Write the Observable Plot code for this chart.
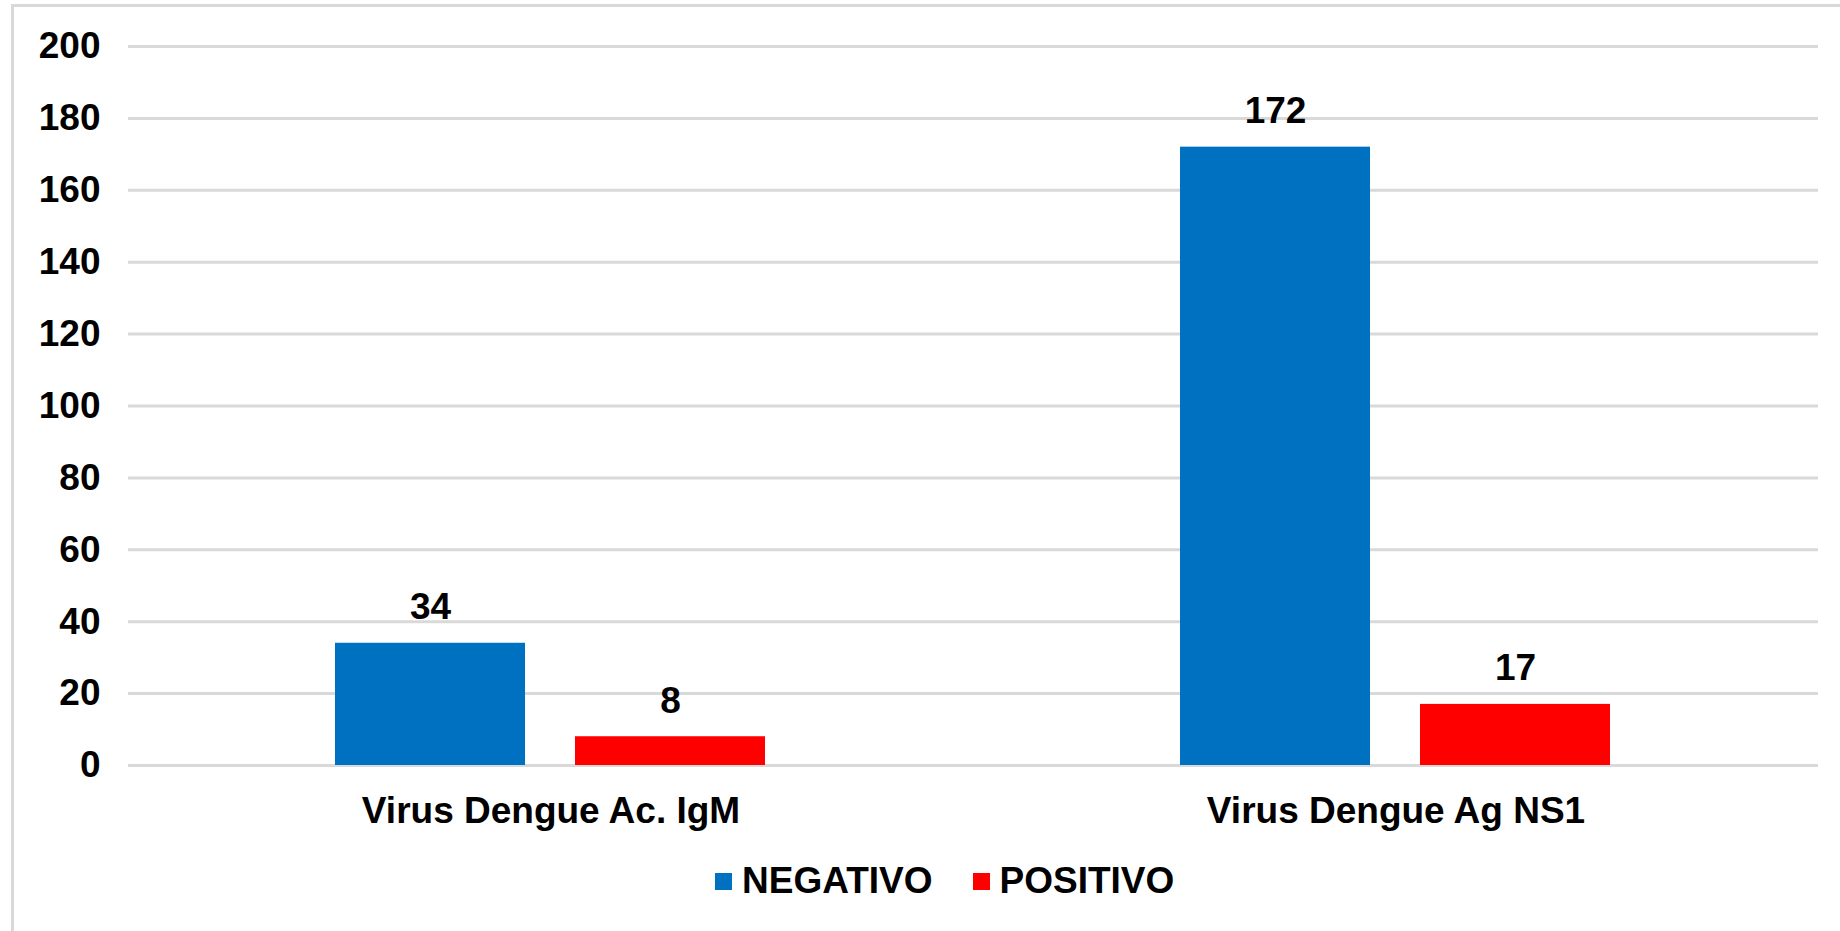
<!DOCTYPE html>
<html>
<head>
<meta charset="utf-8">
<script src="https://cdn.jsdelivr.net/npm/d3@7"></script>
<script src="https://cdn.jsdelivr.net/npm/@observablehq/plot@0.6"></script>
<style>
  html, body { margin: 0; padding: 0; background: #fff; width: 1840px; height: 931px; overflow: hidden; }
  body { font-family: "Liberation Sans", Arial, sans-serif; position: relative; }
  #frame { position: absolute; left: 11px; top: 4px; width: 1840px; height: 940px; border-left: 3px solid #d9d9d9; border-top: 3px solid #d9d9d9; }
  #chart { position: absolute; left: 0; top: 0; }
  #legend { position: absolute; left: 715px; top: 860px; display: flex; align-items: center; font-weight: bold; font-size: 37px; color: #000; white-space: nowrap; }
  .sw { display: inline-block; width: 17px; height: 17px; margin-right: 10px; }
  .item { display: flex; align-items: center; margin-right: 40px; }
</style>
</head>
<body>
<div id="frame"></div>
<div id="chart"></div>
<div id="legend"></div>
<script>
const tests = ["Virus Dengue Ac. IgM", "Virus Dengue Ag NS1"];
const results = ["NEGATIVO", "POSITIVO"];
const negativo = [34, 172];
const positivo = [8, 17];
const colors = ["#0070c0", "#ff0000"];
const yTicks = [0, 20, 40, 60, 80, 100, 120, 140, 160, 180, 200];

const data = [];
tests.forEach((t, i) => {
  data.push({test: t, result: results[0], value: negativo[i]});
  data.push({test: t, result: results[1], value: positivo[i]});
});

const fontFamily = '"Liberation Sans", Arial, sans-serif';

const plot = Plot.plot({
  width: 1840,
  height: 840,
  marginLeft: 128,
  marginRight: 22,
  marginTop: 46,
  marginBottom: 75,
  style: {fontFamily, fontSize: "37px", fontWeight: "bold", color: "#000", background: "transparent"},
  fx: {domain: tests, padding: 0, label: null, tickSize: 0, tickPadding: 31, axis: "bottom"},
  x: {domain: results, paddingInner: 0.208, paddingOuter: 0.8635, axis: null},
  y: {domain: [0, 200], ticks: yTicks, tickSize: 0, tickPadding: 28, label: null, grid: false},
  color: {domain: results, range: colors},
  marks: [
    Plot.gridY(yTicks, {stroke: "#d9d9d9", strokeOpacity: 1, strokeWidth: 3}),
    Plot.barY(data, {fx: "test", x: "result", y: "value", fill: "result"}),
    Plot.text(data, {fx: "test", x: "result", y: "value", text: d => String(d.value), lineAnchor: "bottom", dy: -24, fontSize: 37, fontWeight: "bold", fill: "#000"})
  ]
});
document.getElementById("chart").appendChild(plot);

const legend = document.getElementById("legend");
results.forEach((r, i) => {
  const item = document.createElement("div");
  item.className = "item";
  const sw = document.createElement("span");
  sw.className = "sw";
  sw.style.background = colors[i];
  const label = document.createElement("span");
  label.textContent = r;
  item.appendChild(sw);
  item.appendChild(label);
  legend.appendChild(item);
});
</script>
</body>
</html>
